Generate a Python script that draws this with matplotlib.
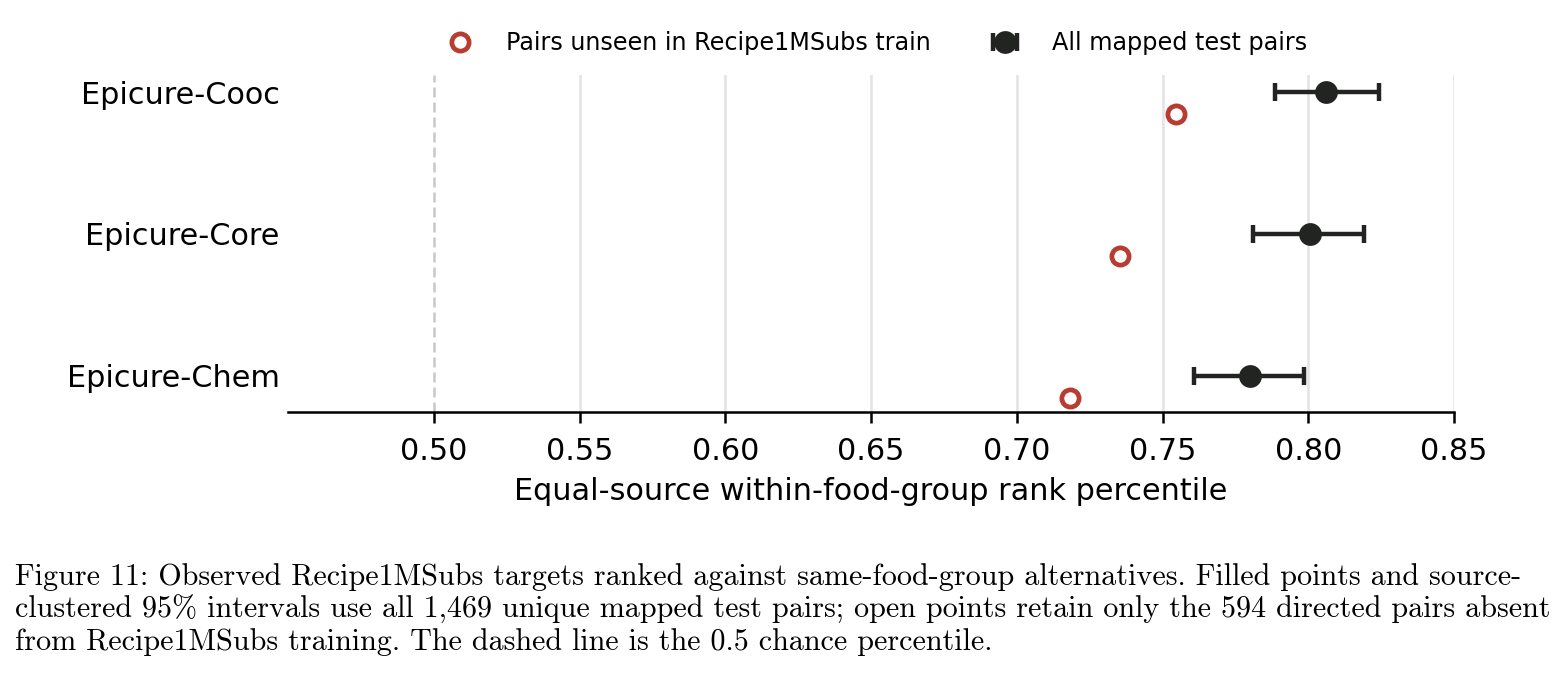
import matplotlib
matplotlib.use("Agg")
import matplotlib.pyplot as plt
from matplotlib.lines import Line2D

models = ["Epicure-Chem", "Epicure-Core", "Epicure-Cooc"]
all_mean = [0.780, 0.8005, 0.806]
all_lo = [0.7608, 0.7812, 0.7885]
all_hi = [0.7986, 0.8190, 0.8244]
unseen_mean = [0.7183, 0.7354, 0.7546]
xticks = [0.50, 0.55, 0.60, 0.65, 0.70, 0.75, 0.80, 0.85]

DARK = "#222422"
RED = "#b83c2f"
FS = 10.9

W, H, DPI = 1562, 677, 200
fig = plt.figure(figsize=(W / DPI, H / DPI), dpi=DPI)
ax = fig.add_axes([288 / W, 1 - 412 / H, (1454 - 288) / W, (412 - 75) / H])

ypos = list(range(len(models)))
off = 0.155

for x in xticks:
    if x != 0.50:
        ax.axvline(x, color="#e3e3e3", lw=0.9, zorder=0)
ax.axvline(0.5, color="#c8c8c8", lw=0.9, ls=(0, (4, 2)), zorder=0)

xerr = [[m - l for m, l in zip(all_mean, all_lo)], [h - m for m, h in zip(all_mean, all_hi)]]
eb = ax.errorbar(all_mean, ypos, xerr=xerr, fmt="o", color=DARK, ms=7.2, lw=1.6,
                 capsize=3.3, capthick=1.6, zorder=3)
op, = ax.plot(unseen_mean, [y - off for y in ypos], "o", ms=6.2, mfc="white", mec=RED,
              mew=1.7, ls="none", zorder=3)

ax.set_xlim(0.45, 0.85)
ax.set_ylim(-0.254, 2.12)
ax.set_xticks(xticks)
ax.set_xticklabels([f"{x:.2f}" for x in xticks], fontsize=FS)
ax.set_yticks(ypos)
ax.set_yticklabels(models, fontsize=FS)
ax.tick_params(axis="y", length=0, pad=3)
ax.tick_params(axis="x", length=4, width=0.9, pad=5)
for s in ["top", "right", "left"]:
    ax.spines[s].set_visible(False)
ax.spines["bottom"].set_linewidth(0.9)
ax.set_xlabel("Equal-source within-food-group rank percentile", fontsize=FS, labelpad=4)

fig.legend([op, eb], ["Pairs unseen in Recipe1MSubs train", "All mapped test pairs"],
           loc="center", bbox_to_anchor=(0.5621, 1 - 43 / H), ncol=2, frameon=False,
           fontsize=8.6, columnspacing=2.65, handletextpad=1.5, handlelength=0.9)

caption = [
    "Figure 11: Observed Recipe1MSubs targets ranked against same-food-group alternatives. Filled points and source-",
    "clustered 95% intervals use all 1,469 unique mapped test pairs; open points retain only the 594 directed pairs absent",
    "from Recipe1MSubs training. The dashed line is the 0.5 chance percentile.",
]
for i, line in enumerate(caption):
    fig.text(15 / W, 1 - (577 + 32.5 * i) / H, line, family="cmr10", fontsize=10.85,
             ha="left", va="center")

fig.savefig("out.png", dpi=DPI)
